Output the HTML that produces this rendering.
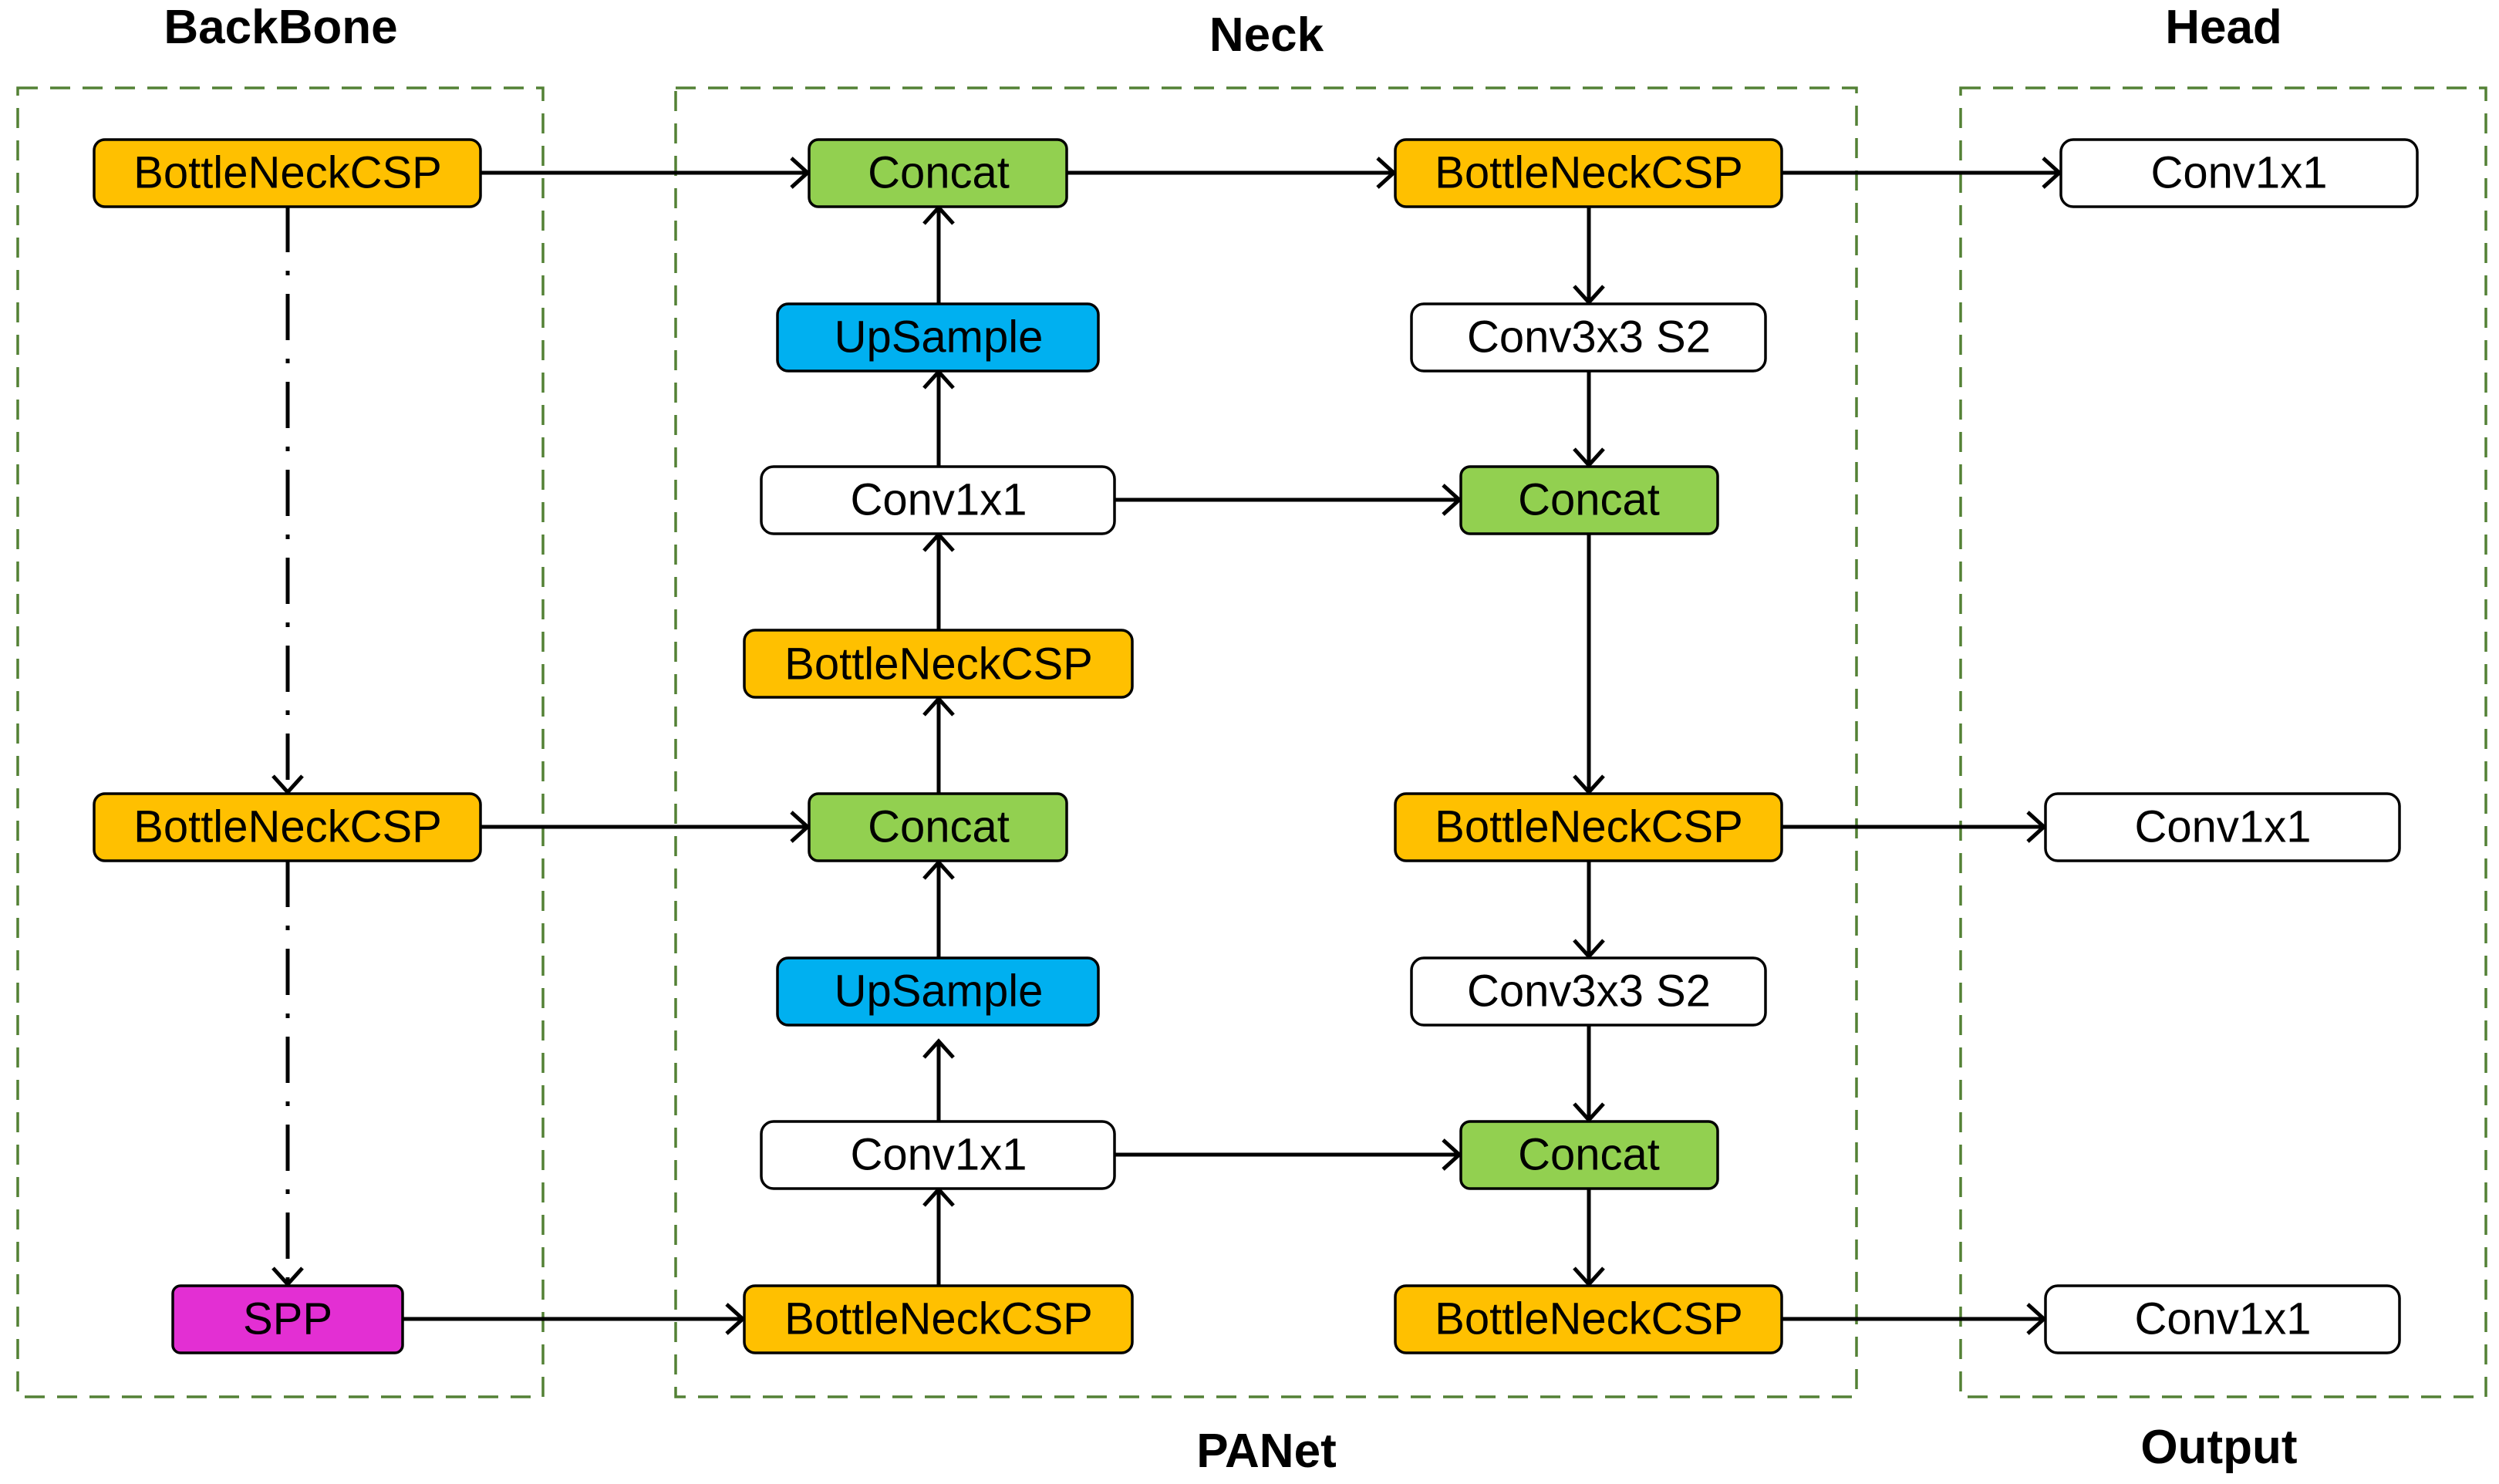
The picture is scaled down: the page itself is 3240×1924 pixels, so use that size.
<!DOCTYPE html>
<html><head><meta charset="utf-8"><style>
html,body{margin:0;padding:0;background:#fff;}
svg{display:block;}
text{font-family:"Liberation Sans",sans-serif;}
.n{font-size:58px;text-anchor:middle;dominant-baseline:central;}
.t{font-size:62px;font-weight:bold;text-anchor:middle;}
.b{stroke:#000;stroke-width:3.5;}
.c{stroke:#000;stroke-width:5;fill:none;marker-end:url(#a);}
.d{stroke:#538135;stroke-width:3.5;fill:none;stroke-dasharray:26 16;}
</style></head><body>
<svg width="3240" height="1924" viewBox="0 0 3240 1924" xmlns="http://www.w3.org/2000/svg">
<defs><marker id="a" markerWidth="10" markerHeight="10" refX="9" refY="5" orient="auto" markerUnits="userSpaceOnUse" viewBox="0 0 10 10" overflow="visible">
<polyline points="-12,-14 9,5 -12,24" fill="none" stroke="#000" stroke-width="5"/></marker></defs>
<rect class="d" x="23" y="114" width="681" height="1697"/>
<rect class="d" x="876" y="114" width="1531" height="1697"/>
<rect class="d" x="2542" y="114" width="681" height="1697"/>
<text class="t" x="364" y="56">BackBone</text>
<text class="t" x="1642" y="66">Neck</text>
<text class="t" x="2883" y="56">Head</text>
<text class="t" x="1642" y="1902">PANet</text>
<text class="t" x="2877" y="1897">Output</text>
<line class="c" x1="623" y1="224" x2="1047" y2="224"/>
<line class="c" x1="1383" y1="224" x2="1807" y2="224"/>
<line class="c" x1="2310" y1="224" x2="2670" y2="224"/>
<line class="c" x1="1217" y1="394" x2="1217" y2="269"/>
<line class="c" x1="1217" y1="605" x2="1217" y2="482"/>
<line class="c" x1="1217" y1="817" x2="1217" y2="693"/>
<line class="c" x1="1217" y1="1029" x2="1217" y2="906"/>
<line class="c" x1="1217" y1="1242" x2="1217" y2="1118"/>
<line class="c" x1="1217" y1="1454" x2="1217" y2="1350"/>
<line class="c" x1="1217" y1="1667" x2="1217" y2="1542"/>
<line class="c" x1="1445" y1="648" x2="1892" y2="648"/>
<line class="c" x1="1445" y1="1497" x2="1892" y2="1497"/>
<line class="c" x1="623" y1="1072" x2="1047" y2="1072"/>
<line class="c" x1="522" y1="1710" x2="963" y2="1710"/>
<line class="c" x1="2060" y1="267" x2="2060" y2="392"/>
<line class="c" x1="2060" y1="480" x2="2060" y2="603"/>
<line class="c" x1="2060" y1="691" x2="2060" y2="1027"/>
<line class="c" x1="2060" y1="1116" x2="2060" y2="1240"/>
<line class="c" x1="2060" y1="1328" x2="2060" y2="1452"/>
<line class="c" x1="2060" y1="1540" x2="2060" y2="1665"/>
<line class="c" x1="2310" y1="1072" x2="2650" y2="1072"/>
<line class="c" x1="2310" y1="1710" x2="2650" y2="1710"/>
<line class="c" x1="373" y1="267" x2="373" y2="1027" stroke-dasharray="60 24 6 24"/>
<line class="c" x1="373" y1="1116" x2="373" y2="1665" stroke-dasharray="60 24 6 24"/>
<g class="b">
<rect x="122" y="181" width="501" height="87" rx="14" fill="#FFC000"/>
<rect x="122" y="1029" width="501" height="87" rx="14" fill="#FFC000"/>
<rect x="224" y="1667" width="298" height="87" rx="10" fill="#E32FD3"/>
<rect x="1049" y="181" width="334" height="87" rx="12" fill="#92D050"/>
<rect x="1049" y="1029" width="334" height="87" rx="12" fill="#92D050"/>
<rect x="1008" y="394" width="416" height="87" rx="14" fill="#00B0F0"/>
<rect x="1008" y="1242" width="416" height="87" rx="14" fill="#00B0F0"/>
<rect x="987" y="605" width="458" height="87" rx="16" fill="#fff"/>
<rect x="987" y="1454" width="458" height="87" rx="16" fill="#fff"/>
<rect x="965" y="817" width="503" height="87" rx="14" fill="#FFC000"/>
<rect x="965" y="1667" width="503" height="87" rx="14" fill="#FFC000"/>
<rect x="1809" y="181" width="501" height="87" rx="14" fill="#FFC000"/>
<rect x="1809" y="1029" width="501" height="87" rx="14" fill="#FFC000"/>
<rect x="1809" y="1667" width="501" height="87" rx="14" fill="#FFC000"/>
<rect x="1830" y="394" width="459" height="87" rx="16" fill="#fff"/>
<rect x="1830" y="1242" width="459" height="87" rx="16" fill="#fff"/>
<rect x="1894" y="605" width="333" height="87" rx="12" fill="#92D050"/>
<rect x="1894" y="1454" width="333" height="87" rx="12" fill="#92D050"/>
<rect x="2672" y="181" width="462" height="87" rx="16" fill="#fff"/>
<rect x="2652" y="1029" width="459" height="87" rx="16" fill="#fff"/>
<rect x="2652" y="1667" width="459" height="87" rx="16" fill="#fff"/>
</g>
<text class="n" x="373" y="224">BottleNeckCSP</text>
<text class="n" x="373" y="1072">BottleNeckCSP</text>
<text class="n" x="373" y="1710">SPP</text>
<text class="n" x="1217" y="224">Concat</text>
<text class="n" x="1217" y="1072">Concat</text>
<text class="n" x="1217" y="437">UpSample</text>
<text class="n" x="1217" y="1285">UpSample</text>
<text class="n" x="1217" y="648">Conv1x1</text>
<text class="n" x="1217" y="1497">Conv1x1</text>
<text class="n" x="1217" y="861">BottleNeckCSP</text>
<text class="n" x="1217" y="1710">BottleNeckCSP</text>
<text class="n" x="2060" y="224">BottleNeckCSP</text>
<text class="n" x="2060" y="1072">BottleNeckCSP</text>
<text class="n" x="2060" y="1710">BottleNeckCSP</text>
<text class="n" x="2060" y="437">Conv3x3 S2</text>
<text class="n" x="2060" y="1285">Conv3x3 S2</text>
<text class="n" x="2060" y="648">Concat</text>
<text class="n" x="2060" y="1497">Concat</text>
<text class="n" x="2903" y="224">Conv1x1</text>
<text class="n" x="2882" y="1072">Conv1x1</text>
<text class="n" x="2882" y="1710">Conv1x1</text>
</svg>
</body></html>
